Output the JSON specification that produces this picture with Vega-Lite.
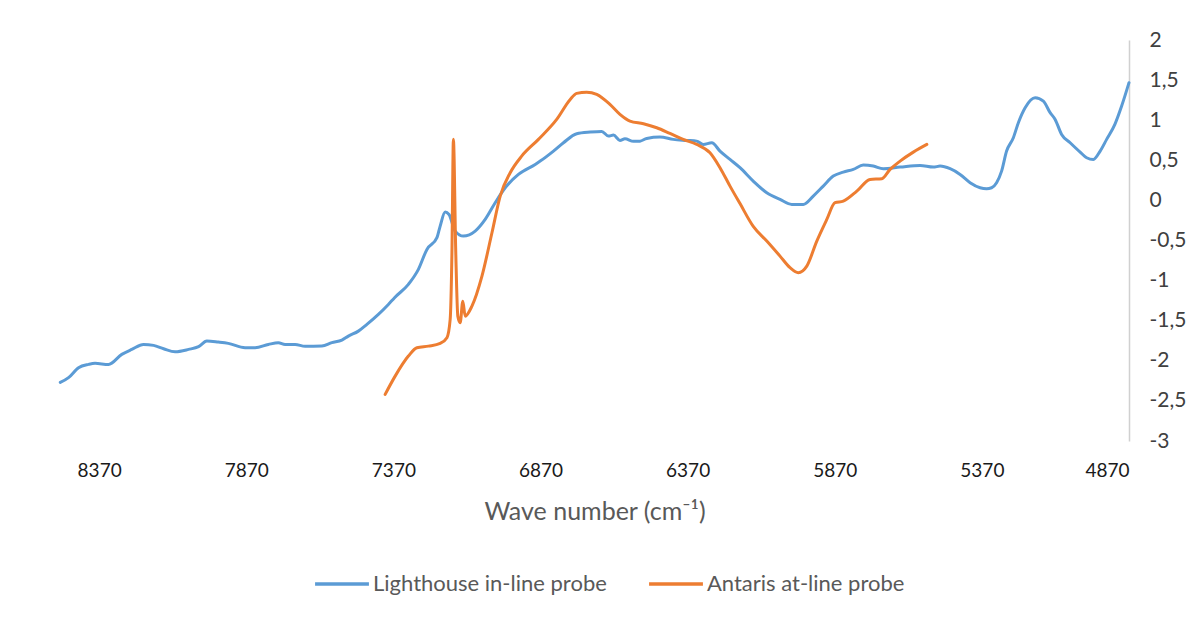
{
  "$schema": "https://vega.github.io/schema/vega-lite/v6.json",
  "width": 1069,
  "height": 401,
  "autosize": "none",
  "padding": {"left": 60, "top": 40, "right": 68, "bottom": 176},
  "background": "white",
  "config": {"view": {"stroke": null}, "font": "Lato"},
  "datasets": {
    "spectra": [
      {"wn": 8502, "value": -2.27, "series": "Lighthouse in-line probe"},
      {"wn": 8474, "value": -2.21, "series": "Lighthouse in-line probe"},
      {"wn": 8440, "value": -2.086, "series": "Lighthouse in-line probe"},
      {"wn": 8406, "value": -2.045, "series": "Lighthouse in-line probe"},
      {"wn": 8384, "value": -2.032, "series": "Lighthouse in-line probe"},
      {"wn": 8338, "value": -2.045, "series": "Lighthouse in-line probe"},
      {"wn": 8293, "value": -1.92, "series": "Lighthouse in-line probe"},
      {"wn": 8259, "value": -1.858, "series": "Lighthouse in-line probe"},
      {"wn": 8219, "value": -1.796, "series": "Lighthouse in-line probe"},
      {"wn": 8185, "value": -1.808, "series": "Lighthouse in-line probe"},
      {"wn": 8151, "value": -1.849, "series": "Lighthouse in-line probe"},
      {"wn": 8112, "value": -1.887, "series": "Lighthouse in-line probe"},
      {"wn": 8066, "value": -1.858, "series": "Lighthouse in-line probe"},
      {"wn": 8032, "value": -1.824, "series": "Lighthouse in-line probe"},
      {"wn": 8004, "value": -1.754, "series": "Lighthouse in-line probe"},
      {"wn": 7965, "value": -1.767, "series": "Lighthouse in-line probe"},
      {"wn": 7931, "value": -1.783, "series": "Lighthouse in-line probe"},
      {"wn": 7874, "value": -1.837, "series": "Lighthouse in-line probe"},
      {"wn": 7840, "value": -1.837, "series": "Lighthouse in-line probe"},
      {"wn": 7795, "value": -1.796, "series": "Lighthouse in-line probe"},
      {"wn": 7761, "value": -1.774, "series": "Lighthouse in-line probe"},
      {"wn": 7738, "value": -1.796, "series": "Lighthouse in-line probe"},
      {"wn": 7704, "value": -1.796, "series": "Lighthouse in-line probe"},
      {"wn": 7670, "value": -1.82, "series": "Lighthouse in-line probe"},
      {"wn": 7613, "value": -1.817, "series": "Lighthouse in-line probe"},
      {"wn": 7579, "value": -1.774, "series": "Lighthouse in-line probe"},
      {"wn": 7545, "value": -1.742, "series": "Lighthouse in-line probe"},
      {"wn": 7523, "value": -1.692, "series": "Lighthouse in-line probe"},
      {"wn": 7489, "value": -1.63, "series": "Lighthouse in-line probe"},
      {"wn": 7460, "value": -1.546, "series": "Lighthouse in-line probe"},
      {"wn": 7421, "value": -1.421, "series": "Lighthouse in-line probe"},
      {"wn": 7387, "value": -1.297, "series": "Lighthouse in-line probe"},
      {"wn": 7366, "value": -1.213, "series": "Lighthouse in-line probe"},
      {"wn": 7319, "value": -1.047, "series": "Lighthouse in-line probe"},
      {"wn": 7285, "value": -0.86, "series": "Lighthouse in-line probe"},
      {"wn": 7256, "value": -0.611, "series": "Lighthouse in-line probe"},
      {"wn": 7222, "value": -0.465, "series": "Lighthouse in-line probe"},
      {"wn": 7211, "value": -0.32, "series": "Lighthouse in-line probe"},
      {"wn": 7194, "value": -0.146, "series": "Lighthouse in-line probe"},
      {"wn": 7181, "value": -0.175, "series": "Lighthouse in-line probe"},
      {"wn": 7160, "value": -0.383, "series": "Lighthouse in-line probe"},
      {"wn": 7132, "value": -0.445, "series": "Lighthouse in-line probe"},
      {"wn": 7092, "value": -0.383, "series": "Lighthouse in-line probe"},
      {"wn": 7058, "value": -0.237, "series": "Lighthouse in-line probe"},
      {"wn": 7024, "value": -0.029, "series": "Lighthouse in-line probe"},
      {"wn": 6990, "value": 0.158, "series": "Lighthouse in-line probe"},
      {"wn": 6945, "value": 0.324, "series": "Lighthouse in-line probe"},
      {"wn": 6888, "value": 0.449, "series": "Lighthouse in-line probe"},
      {"wn": 6871, "value": 0.49, "series": "Lighthouse in-line probe"},
      {"wn": 6826, "value": 0.615, "series": "Lighthouse in-line probe"},
      {"wn": 6792, "value": 0.719, "series": "Lighthouse in-line probe"},
      {"wn": 6747, "value": 0.832, "series": "Lighthouse in-line probe"},
      {"wn": 6701, "value": 0.852, "series": "Lighthouse in-line probe"},
      {"wn": 6662, "value": 0.86, "series": "Lighthouse in-line probe"},
      {"wn": 6639, "value": 0.802, "series": "Lighthouse in-line probe"},
      {"wn": 6622, "value": 0.814, "series": "Lighthouse in-line probe"},
      {"wn": 6600, "value": 0.748, "series": "Lighthouse in-line probe"},
      {"wn": 6583, "value": 0.769, "series": "Lighthouse in-line probe"},
      {"wn": 6554, "value": 0.736, "series": "Lighthouse in-line probe"},
      {"wn": 6532, "value": 0.739, "series": "Lighthouse in-line probe"},
      {"wn": 6509, "value": 0.773, "series": "Lighthouse in-line probe"},
      {"wn": 6464, "value": 0.789, "series": "Lighthouse in-line probe"},
      {"wn": 6419, "value": 0.761, "series": "Lighthouse in-line probe"},
      {"wn": 6373, "value": 0.748, "series": "Lighthouse in-line probe"},
      {"wn": 6339, "value": 0.739, "series": "Lighthouse in-line probe"},
      {"wn": 6317, "value": 0.698, "series": "Lighthouse in-line probe"},
      {"wn": 6288, "value": 0.719, "series": "Lighthouse in-line probe"},
      {"wn": 6260, "value": 0.615, "series": "Lighthouse in-line probe"},
      {"wn": 6226, "value": 0.511, "series": "Lighthouse in-line probe"},
      {"wn": 6192, "value": 0.408, "series": "Lighthouse in-line probe"},
      {"wn": 6147, "value": 0.241, "series": "Lighthouse in-line probe"},
      {"wn": 6101, "value": 0.096, "series": "Lighthouse in-line probe"},
      {"wn": 6056, "value": 0.012, "series": "Lighthouse in-line probe"},
      {"wn": 6016, "value": -0.05, "series": "Lighthouse in-line probe"},
      {"wn": 5977, "value": -0.05, "series": "Lighthouse in-line probe"},
      {"wn": 5943, "value": 0.054, "series": "Lighthouse in-line probe"},
      {"wn": 5909, "value": 0.178, "series": "Lighthouse in-line probe"},
      {"wn": 5875, "value": 0.303, "series": "Lighthouse in-line probe"},
      {"wn": 5841, "value": 0.353, "series": "Lighthouse in-line probe"},
      {"wn": 5807, "value": 0.387, "series": "Lighthouse in-line probe"},
      {"wn": 5773, "value": 0.44, "series": "Lighthouse in-line probe"},
      {"wn": 5739, "value": 0.428, "series": "Lighthouse in-line probe"},
      {"wn": 5705, "value": 0.395, "series": "Lighthouse in-line probe"},
      {"wn": 5648, "value": 0.415, "series": "Lighthouse in-line probe"},
      {"wn": 5580, "value": 0.436, "series": "Lighthouse in-line probe"},
      {"wn": 5535, "value": 0.415, "series": "Lighthouse in-line probe"},
      {"wn": 5512, "value": 0.428, "series": "Lighthouse in-line probe"},
      {"wn": 5478, "value": 0.395, "series": "Lighthouse in-line probe"},
      {"wn": 5444, "value": 0.324, "series": "Lighthouse in-line probe"},
      {"wn": 5410, "value": 0.221, "series": "Lighthouse in-line probe"},
      {"wn": 5376, "value": 0.158, "series": "Lighthouse in-line probe"},
      {"wn": 5354, "value": 0.146, "series": "Lighthouse in-line probe"},
      {"wn": 5337, "value": 0.158, "series": "Lighthouse in-line probe"},
      {"wn": 5320, "value": 0.221, "series": "Lighthouse in-line probe"},
      {"wn": 5303, "value": 0.365, "series": "Lighthouse in-line probe"},
      {"wn": 5286, "value": 0.615, "series": "Lighthouse in-line probe"},
      {"wn": 5263, "value": 0.782, "series": "Lighthouse in-line probe"},
      {"wn": 5246, "value": 0.969, "series": "Lighthouse in-line probe"},
      {"wn": 5223, "value": 1.156, "series": "Lighthouse in-line probe"},
      {"wn": 5189, "value": 1.281, "series": "Lighthouse in-line probe"},
      {"wn": 5161, "value": 1.238, "series": "Lighthouse in-line probe"},
      {"wn": 5138, "value": 1.094, "series": "Lighthouse in-line probe"},
      {"wn": 5121, "value": 1.01, "series": "Lighthouse in-line probe"},
      {"wn": 5099, "value": 0.823, "series": "Lighthouse in-line probe"},
      {"wn": 5070, "value": 0.719, "series": "Lighthouse in-line probe"},
      {"wn": 5036, "value": 0.602, "series": "Lighthouse in-line probe"},
      {"wn": 5014, "value": 0.532, "series": "Lighthouse in-line probe"},
      {"wn": 4991, "value": 0.511, "series": "Lighthouse in-line probe"},
      {"wn": 4968, "value": 0.615, "series": "Lighthouse in-line probe"},
      {"wn": 4946, "value": 0.761, "series": "Lighthouse in-line probe"},
      {"wn": 4918, "value": 0.948, "series": "Lighthouse in-line probe"},
      {"wn": 4895, "value": 1.176, "series": "Lighthouse in-line probe"},
      {"wn": 4870, "value": 1.468, "series": "Lighthouse in-line probe"},
      {"wn": 7398, "value": -2.419, "series": "Antaris at-line probe"},
      {"wn": 7364, "value": -2.191, "series": "Antaris at-line probe"},
      {"wn": 7319, "value": -1.941, "series": "Antaris at-line probe"},
      {"wn": 7290, "value": -1.837, "series": "Antaris at-line probe"},
      {"wn": 7251, "value": -1.817, "series": "Antaris at-line probe"},
      {"wn": 7211, "value": -1.783, "series": "Antaris at-line probe"},
      {"wn": 7188, "value": -1.712, "series": "Antaris at-line probe"},
      {"wn": 7177, "value": -1.484, "series": "Antaris at-line probe"},
      {"wn": 7171, "value": -0.648, "series": "Antaris at-line probe"},
      {"wn": 7166, "value": 0.761, "series": "Antaris at-line probe"},
      {"wn": 7158, "value": -0.648, "series": "Antaris at-line probe"},
      {"wn": 7151, "value": -1.443, "series": "Antaris at-line probe"},
      {"wn": 7143, "value": -1.525, "series": "Antaris at-line probe"},
      {"wn": 7134, "value": -1.256, "series": "Antaris at-line probe"},
      {"wn": 7126, "value": -1.443, "series": "Antaris at-line probe"},
      {"wn": 7103, "value": -1.318, "series": "Antaris at-line probe"},
      {"wn": 7069, "value": -0.944, "series": "Antaris at-line probe"},
      {"wn": 7035, "value": -0.403, "series": "Antaris at-line probe"},
      {"wn": 7007, "value": 0.054, "series": "Antaris at-line probe"},
      {"wn": 6973, "value": 0.345, "series": "Antaris at-line probe"},
      {"wn": 6934, "value": 0.552, "series": "Antaris at-line probe"},
      {"wn": 6877, "value": 0.761, "series": "Antaris at-line probe"},
      {"wn": 6815, "value": 1.01, "series": "Antaris at-line probe"},
      {"wn": 6769, "value": 1.259, "series": "Antaris at-line probe"},
      {"wn": 6747, "value": 1.334, "series": "Antaris at-line probe"},
      {"wn": 6713, "value": 1.35, "series": "Antaris at-line probe"},
      {"wn": 6679, "value": 1.322, "series": "Antaris at-line probe"},
      {"wn": 6634, "value": 1.197, "series": "Antaris at-line probe"},
      {"wn": 6600, "value": 1.072, "series": "Antaris at-line probe"},
      {"wn": 6566, "value": 0.989, "series": "Antaris at-line probe"},
      {"wn": 6520, "value": 0.956, "series": "Antaris at-line probe"},
      {"wn": 6475, "value": 0.906, "series": "Antaris at-line probe"},
      {"wn": 6430, "value": 0.835, "series": "Antaris at-line probe"},
      {"wn": 6385, "value": 0.761, "series": "Antaris at-line probe"},
      {"wn": 6339, "value": 0.698, "series": "Antaris at-line probe"},
      {"wn": 6294, "value": 0.594, "series": "Antaris at-line probe"},
      {"wn": 6260, "value": 0.408, "series": "Antaris at-line probe"},
      {"wn": 6226, "value": 0.178, "series": "Antaris at-line probe"},
      {"wn": 6192, "value": -0.04, "series": "Antaris at-line probe"},
      {"wn": 6147, "value": -0.324, "series": "Antaris at-line probe"},
      {"wn": 6101, "value": -0.507, "series": "Antaris at-line probe"},
      {"wn": 6056, "value": -0.695, "series": "Antaris at-line probe"},
      {"wn": 6022, "value": -0.839, "series": "Antaris at-line probe"},
      {"wn": 5994, "value": -0.901, "series": "Antaris at-line probe"},
      {"wn": 5965, "value": -0.819, "series": "Antaris at-line probe"},
      {"wn": 5931, "value": -0.507, "series": "Antaris at-line probe"},
      {"wn": 5897, "value": -0.237, "series": "Antaris at-line probe"},
      {"wn": 5869, "value": -0.029, "series": "Antaris at-line probe"},
      {"wn": 5841, "value": -0.009, "series": "Antaris at-line probe"},
      {"wn": 5795, "value": 0.116, "series": "Antaris at-line probe"},
      {"wn": 5750, "value": 0.262, "series": "Antaris at-line probe"},
      {"wn": 5710, "value": 0.271, "series": "Antaris at-line probe"},
      {"wn": 5682, "value": 0.387, "series": "Antaris at-line probe"},
      {"wn": 5648, "value": 0.49, "series": "Antaris at-line probe"},
      {"wn": 5603, "value": 0.602, "series": "Antaris at-line probe"},
      {"wn": 5557, "value": 0.698, "series": "Antaris at-line probe"}
    ]
  },
  "layer": [
    {
      "mark": {"type": "rule", "color": "#d9d9d9", "strokeWidth": 1.5},
      "encoding": {"y": {"datum": 0, "type": "quantitative"}}
    },
    {
      "data": {"name": "spectra"},
      "mark": {"type": "line", "strokeWidth": 3, "interpolate": "monotone", "strokeCap": "round", "strokeJoin": "round"},
      "encoding": {
        "x": {
          "field": "wn",
          "type": "quantitative",
          "scale": {"domain": [4870, 8503], "reverse": true, "nice": false, "zero": false},
          "axis": {
            "title": "Wave number (cm⁻¹)",
            "values": [8370, 7870, 7370, 6870, 6370, 5870, 5370, 4870],
            "format": "d",
            "domain": false,
            "ticks": false,
            "grid": false,
            "labelPadding": 20,
            "labelFontSize": 19,
            "labelColor": "#1a1a1a",
            "labelFont": "Lato",
            "titleFont": "Lato",
            "titleFontSize": 25,
            "titleFontWeight": "normal",
            "titleColor": "#595959",
            "titlePadding": 19
          }
        },
        "y": {
          "field": "value",
          "type": "quantitative",
          "scale": {"domain": [-3, 2], "nice": false, "zero": false},
          "axis": {
            "orient": "right",
            "title": null,
            "values": [-3, -2.5, -2, -1.5, -1, -0.5, 0, 0.5, 1, 1.5, 2],
            "labelExpr": "replace(toString(datum.value), '.', ',')",
            "domain": true,
            "domainColor": "#d0d0d0",
            "domainWidth": 1.5,
            "ticks": false,
            "grid": false,
            "labelPadding": 20,
            "labelFontSize": 21,
            "labelColor": "#404040",
            "labelFont": "Lato"
          }
        },
        "color": {
          "field": "series",
          "type": "nominal",
          "scale": {"domain": ["Lighthouse in-line probe", "Antaris at-line probe"], "range": ["#5B9BD5", "#ED7D31"]},
          "legend": {
            "title": null,
            "orient": "none",
            "direction": "horizontal",
            "legendX": 253,
            "legendY": 515,
            "symbolType": "stroke",
            "symbolSize": 2900,
            "symbolStrokeWidth": 3.5,
            "labelFontSize": 22,
            "labelFont": "Lato",
            "labelColor": "#595959",
            "labelLimit": 0,
            "labelOffset": 2,
            "columnPadding": 35
          }
        }
      }
    }
  ]
}
